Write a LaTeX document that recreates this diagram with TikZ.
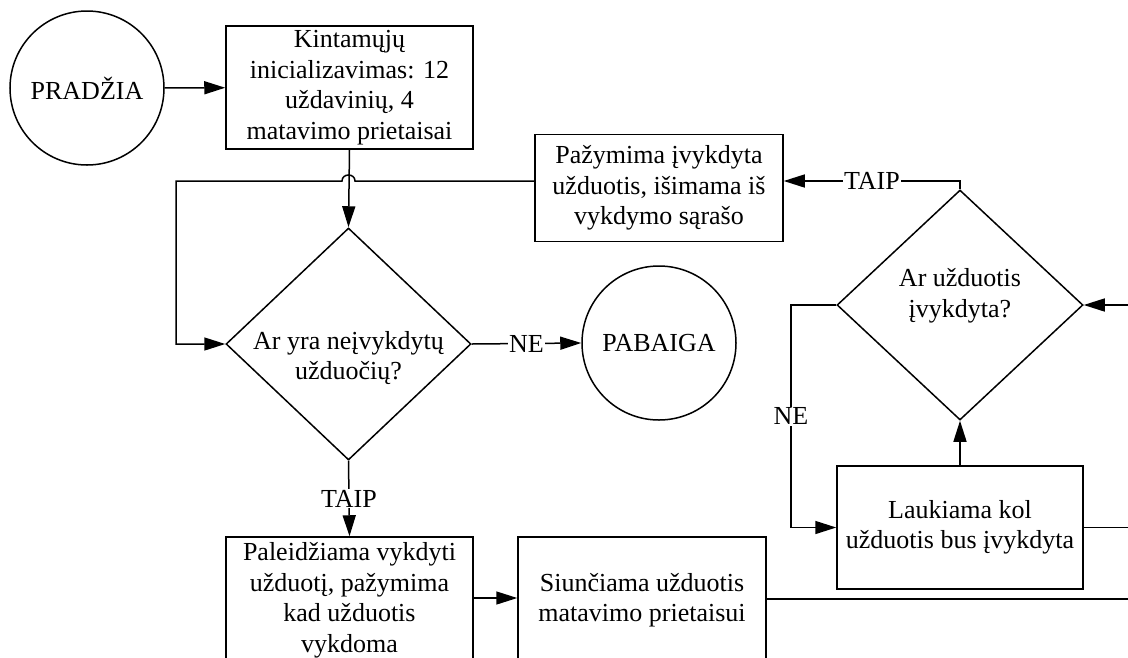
\documentclass[tikz,border=0pt]{standalone}
\usepackage{fontspec}
\setmainfont{Liberation Serif}
\usetikzlibrary{shapes.geometric,arrows.meta}
\begin{document}
\begin{tikzpicture}[x=1pt,y=-1pt,
  every node/.style={font=\fontsize{26}{30.5}\selectfont, align=center},
  flow/.style={line width=1.5pt},
  arr/.style={flow, -{Triangle[length=21pt,width=13pt]}},
  boxnode/.style={draw, line width=1.5pt, rectangle, inner sep=0pt},
  term/.style={draw, line width=1.5pt, circle, minimum size=154pt, inner sep=0pt},
  decision/.style={draw, line width=1.5pt, diamond, inner sep=0pt},
  tag/.style={fill=white, inner sep=1pt}]
\clip (0,0) rectangle (1128,657);
\fill[white] (0,0) rectangle (1128,657);

% terminals
\node[term] (start) at (87,88) {PRADŽIA};
\node[term] (stop) at (659,343) {PABAIGA};

% process boxes
\node[boxnode, minimum width=247pt, minimum height=123pt] (init) at (349.5,87.5)
  {Kintamųjų\\inicializavimas: 12\\uždavinių, 4\\matavimo prietaisai};
\node[boxnode, minimum width=248pt, minimum height=107pt] (mark) at (659,188)
  {Pažymima įvykdyta\\užduotis, išimama iš\\vykdymo sąrašo};
\node[boxnode, minimum width=247pt, minimum height=126pt] (run) at (349.5,600)
  {Paleidžiama vykdyti\\užduotį, pažymima\\kad užduotis\\vykdoma};
\node[boxnode, minimum width=248pt, minimum height=126pt] (send) at (642,600)
  {Siunčiama užduotis\\matavimo prietaisui};
\node[boxnode, minimum width=246pt, minimum height=123pt] (wait) at (960,527.5)
  {Laukiama kol\\užduotis bus įvykdyta};

% decisions
\node[decision, minimum width=245pt, minimum height=232pt] (q1) at (348.5,344) {};
\node (q1t) at (348.5,358) {Ar yra neįvykdytų\\užduočių?};
\node[decision, minimum width=246pt, minimum height=230pt] (q2) at (960,305) {};
\node (q2t) at (960,296) {Ar užduotis\\įvykdyta?};

% free ends at the right border
\coordinate (rin) at (1128,305);
\coordinate (rsend) at (1128,599);
\coordinate (loopx) at (176,181);
\coordinate (nex) at (791,305);

% connectors
\draw[arr] (start) -- (init);
\draw[arr] (init.south) -- (q1.north);
\draw[arr] (mark.west |- 0,181) -- (355,181)
  .. controls (355,173) and (342,173) .. (342,181)
  -- (loopx) |- (q1.west);
\draw[arr] (q1.east) -- node[tag] {NE} (stop.west);
\draw[arr] (q1.south) -- node[tag] {TAIP} (run.north);
\draw[arr] (run.east |- 0,598) -- (send.west |- 0,598);
\draw[flow] (send.east |- rsend) -- (rsend);
\draw[flow] (wait.east) -- (wait.east -| rsend);
\draw[arr] (rin) -- (q2.east);
\draw[arr] (q2.west) -- (nex) -- node[tag] {NE} (nex |- wait.west) -- (wait.west);
\draw[arr] (wait.north) -- (q2.south);
\draw[arr] (q2.north) -- (960,181) -- node[tag] {TAIP} (mark.east |- 0,181);
\end{tikzpicture}
\end{document}
